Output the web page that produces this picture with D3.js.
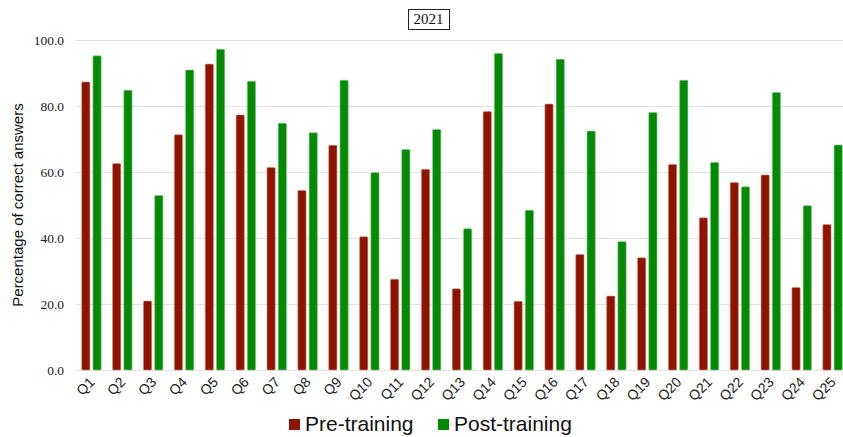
<!DOCTYPE html>
<html><head><meta charset="utf-8">
<script src="https://cdn.jsdelivr.net/npm/d3@7"></script>
<style>body{margin:0;background:#fff}svg{display:block}</style>
</head><body>
<svg id="chart" width="843" height="437"></svg>
<script>
const categories = ["Q1","Q2","Q3","Q4","Q5","Q6","Q7","Q8","Q9","Q10","Q11","Q12","Q13","Q14","Q15","Q16","Q17","Q18","Q19","Q20","Q21","Q22","Q23","Q24","Q25"];
const preTraining = [87.3,62.6,20.9,71.3,92.7,77.3,61.4,54.4,68.1,40.4,27.5,60.8,24.6,78.3,20.8,80.6,35.0,22.4,34.0,62.3,46.1,56.8,59.1,25.0,44.1];
const postTraining = [95.2,84.8,52.9,90.9,97.2,87.5,74.8,71.9,87.8,59.8,66.8,72.9,42.8,95.9,48.4,94.2,72.4,38.9,78.0,87.8,62.9,55.5,84.1,49.8,68.2];
const seriesNames = ["Pre-training","Post-training"];
const yTicks = [0,20,40,60,80,100];
const colors = {"Pre-training":"#8e1400","Post-training":"#058a05"};

const svg = d3.select("#chart");
const x0 = d3.scaleBand().domain(categories).range([76,848]).paddingInner(0.37).paddingOuter(0.185);
const x1 = d3.scaleBand().domain(seriesNames).range([0,x0.bandwidth()]).paddingInner(0.27);
const y = d3.scaleLinear().domain([0,100]).range([370,40]);

// gridlines
const yAxis = d3.axisLeft(y).tickValues(yTicks).tickSize(-(843-76)).tickFormat(d3.format(".1f")).tickPadding(12);
const ga = svg.append("g").attr("transform","translate(76,0)").call(yAxis);
ga.select(".domain").remove();
ga.selectAll(".tick line").attr("stroke","#e3e3e3").attr("stroke-width",1.2);
ga.selectAll(".tick text").attr("font-family","Liberation Serif, serif").attr("font-size","13.5px").attr("fill","#222");

const rows = categories.map((c,i)=>({cat:c, vals:[{s:"Pre-training",v:preTraining[i]},{s:"Post-training",v:postTraining[i]}]}));
const g = svg.append("g");
g.selectAll("g.grp").data(rows).join("g").attr("class","grp")
  .attr("transform",d=>`translate(${x0(d.cat)},0)`)
  .selectAll("rect").data(d=>d.vals).join("rect")
  .attr("x",d=>x1(d.s)).attr("width",x1.bandwidth())
  .attr("y",d=>y(d.v)).attr("height",d=>y(0)-y(d.v))
  .attr("rx",1).attr("fill",d=>colors[d.s])
  .attr("stroke",d=>d.s==="Pre-training"?"#c98a80":"#7fc47f").attr("stroke-width",0.6);

// x labels
const xa = svg.append("g");
xa.selectAll("text").data(categories).join("text")
  .attr("transform",d=>`translate(${x0(d)+x0.bandwidth()/2+4},${383}) rotate(-45)`)
  .attr("text-anchor","end")
  .attr("font-family","Liberation Sans, Arial, sans-serif").attr("font-size","14px").attr("fill","#222")
  .text(d=>d);

// y axis title
svg.append("text").attr("transform","translate(23,205) rotate(-90)")
  .attr("text-anchor","middle").attr("font-family","Liberation Sans, Arial, sans-serif")
  .attr("font-size","15px").attr("fill","#111").text("Percentage of correct answers");

// title
const tx = 428.5, ty = 19;
svg.append("rect").attr("x",408.5).attr("y",9.5).attr("width",41).attr("height",20).attr("fill","none").attr("stroke","#222").attr("stroke-width",1);
svg.append("text").attr("x",tx).attr("y",ty+5).attr("text-anchor","middle")
  .attr("font-family","Liberation Serif, serif").attr("font-size","15px").attr("fill","#111").text("2021");

// legend
const leg = svg.append("g");
const legX = [289,438];
seriesNames.forEach((s,i)=>{
  leg.append("rect").attr("x",legX[i]).attr("y",419).attr("width",11).attr("height",11).attr("fill",colors[s]);
  leg.append("text").attr("x",legX[i]+16).attr("y",431).attr("font-family","Liberation Sans, Arial, sans-serif")
    .attr("font-size","21px").attr("fill","#111").text(s);
});
</script>
</body></html>
